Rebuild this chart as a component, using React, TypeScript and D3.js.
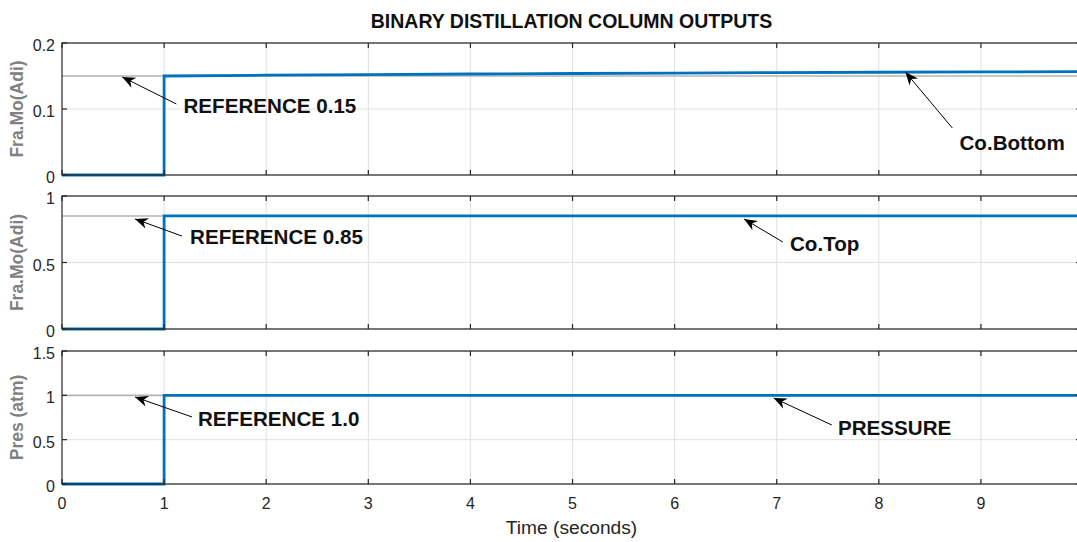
import React, { useEffect, useRef } from 'react';
import * as d3 from 'd3';

// time samples (seconds) and the three column outputs
const timeSec = [0, 1, 1, 2, 3, 4, 5, 6, 7, 8, 9, 9.98];
const coBottom = [0, 0, 0.15, 0.1512, 0.1522, 0.153, 0.1538, 0.1545, 0.1551, 0.1557, 0.1562, 0.1567];
const coTop = [0, 0, 0.85, 0.85, 0.85, 0.85, 0.85, 0.85, 0.85, 0.85, 0.85, 0.85];
const pressure = [0, 0, 1, 1, 1, 1, 1, 1, 1, 1, 1, 1];

const panelLabels = ['Fra.Mo(Adi)', 'Fra.Mo(Adi)', 'Pres (atm)'];
const panelMax = [0.2, 1, 1.5];
const panelTicks = [[0, 0.1, 0.2], [0, 0.5, 1], [0, 0.5, 1, 1.5]];
const referenceValues = [0.15, 0.85, 1.0];
const xTicks = [0, 1, 2, 3, 4, 5, 6, 7, 8, 9];

// annotations: [panel, tipX, tipY, tailX, tailY, textX, textY, label]
const annotations: [number, number, number, number, number, number, number, string][] = [
  [0, 0.59, 0.1485, 1.12, 0.1076, 1.19, 0.094, 'REFERENCE 0.15'],
  [0, 8.26, 0.156, 8.72, 0.0712, 8.79, 0.0379, 'Co.Bottom'],
  [1, 0.715, 0.827, 1.175, 0.699, 1.254, 0.639, 'REFERENCE 0.85'],
  [1, 6.68, 0.827, 7.06, 0.654, 7.13, 0.586, 'Co.Top'],
  [2, 0.715, 0.981, 1.273, 0.756, 1.332, 0.654, 'REFERENCE 1.0'],
  [2, 6.97, 0.97, 7.54, 0.665, 7.6, 0.553, 'PRESSURE'],
];

const App: React.FC = () => {
  const svgRef = useRef<SVGSVGElement>(null);

  useEffect(() => {
    if (!svgRef.current) return;
    d3.select(svgRef.current).selectAll('*').remove();

    const width = 1077;
    const height = 542;
    const left = 62;
    const right = 1081;
    const panelTops = [43, 196, 351];
    const panelBottoms = [175, 329, 484];
    const font = '"Liberation Sans", Arial, Helvetica, sans-serif';
    const frameColor = '#262626';
    const gridColor = '#e0e0e0';
    const lineColor = '#0072BD';
    const refColor = '#b4b4b4';
    const tickLen = 5;

    const svg = d3.select(svgRef.current)
      .attr('width', width)
      .attr('height', height)
      .style('font-family', font);

    svg.append('rect').attr('width', width).attr('height', height).attr('fill', '#fff');

    const x = d3.scaleLinear().domain([0, 9.98]).range([left, right]);
    const series = [coBottom, coTop, pressure];

    panelTops.forEach((top, p) => {
      const bottom = panelBottoms[p];
      const y = d3.scaleLinear().domain([0, panelMax[p]]).range([bottom, top]);
      const g = svg.append('g');

      // grid
      xTicks.slice(1).forEach(t => {
        g.append('line')
          .attr('x1', x(t)).attr('x2', x(t))
          .attr('y1', top).attr('y2', bottom)
          .attr('stroke', gridColor).attr('stroke-width', 1);
      });
      panelTicks[p].forEach(t => {
        g.append('line')
          .attr('x1', left).attr('x2', right)
          .attr('y1', y(t)).attr('y2', y(t))
          .attr('stroke', gridColor).attr('stroke-width', 1);
      });

      // reference line
      g.append('line')
        .attr('x1', left).attr('x2', right)
        .attr('y1', y(referenceValues[p])).attr('y2', y(referenceValues[p]))
        .attr('stroke', refColor).attr('stroke-width', 1.6);

      // signal
      const line = d3.line<number>()
        .x((_, i) => x(timeSec[i]))
        .y(d => y(d));
      g.append('path')
        .attr('d', line(series[p]))
        .attr('fill', 'none')
        .attr('stroke', lineColor)
        .attr('stroke-width', 2.8);

      // frame
      g.append('rect')
        .attr('x', left).attr('y', top)
        .attr('width', right - left).attr('height', bottom - top)
        .attr('fill', 'none').attr('stroke', frameColor).attr('stroke-width', 1.2);

      // x ticks (inward, top and bottom)
      xTicks.forEach(t => {
        g.append('line').attr('x1', x(t)).attr('x2', x(t))
          .attr('y1', bottom).attr('y2', bottom - tickLen)
          .attr('stroke', frameColor).attr('stroke-width', 1.2);
        g.append('line').attr('x1', x(t)).attr('x2', x(t))
          .attr('y1', top).attr('y2', top + tickLen)
          .attr('stroke', frameColor).attr('stroke-width', 1.2);
      });

      // y ticks and labels
      panelTicks[p].forEach(t => {
        g.append('line').attr('x1', left).attr('x2', left + tickLen)
          .attr('y1', y(t)).attr('y2', y(t))
          .attr('stroke', frameColor).attr('stroke-width', 1.2);
        g.append('line').attr('x1', right).attr('x2', right - tickLen)
          .attr('y1', y(t)).attr('y2', y(t))
          .attr('stroke', frameColor).attr('stroke-width', 1.2);
        g.append('text')
          .attr('x', left - 7).attr('y', y(t) + 8)
          .attr('text-anchor', 'end')
          .attr('font-size', 16)
          .attr('fill', frameColor)
          .text(String(t));
      });

      // y label
      g.append('text')
        .attr('transform', `translate(23,${(top + bottom) / 2}) rotate(-90)`)
        .attr('text-anchor', 'middle')
        .attr('font-size', 17.5)
        .attr('font-weight', 'bold')
        .attr('fill', '#808080')
        .text(panelLabels[p]);

      // annotations
      annotations.filter(a => a[0] === p).forEach(a => {
        const [, tx, ty, sx, sy, lx, ly, label] = a;
        const x1 = x(sx), y1 = y(sy), x2 = x(tx), y2 = y(ty);
        g.append('line')
          .attr('x1', x1).attr('y1', y1).attr('x2', x2).attr('y2', y2)
          .attr('stroke', '#000').attr('stroke-width', 1);
        const ang = Math.atan2(y2 - y1, x2 - x1);
        const len = 13, half = 5.5, notch = 9;
        const ux = Math.cos(ang), uy = Math.sin(ang);
        const bx = x2 - ux * len, by = y2 - uy * len;
        const pts: [number, number][] = [
          [x2, y2],
          [bx - uy * half, by + ux * half],
          [x2 - ux * notch, y2 - uy * notch],
          [bx + uy * half, by - ux * half],
        ];
        g.append('path')
          .attr('d', d3.line()(pts) + 'Z')
          .attr('fill', '#000');
        g.append('text')
          .attr('x', x(lx)).attr('y', y(ly))
          .attr('font-size', 20.6)
          .attr('font-weight', 'bold')
          .attr('fill', '#111')
          .text(label);
      });
    });

    // x tick labels under bottom panel
    xTicks.forEach(t => {
      svg.append('text')
        .attr('x', x(t)).attr('y', 509)
        .attr('text-anchor', 'middle')
        .attr('font-size', 16)
        .attr('fill', frameColor)
        .text(String(t));
    });

    svg.append('text')
      .attr('x', (left + right) / 2).attr('y', 534)
      .attr('text-anchor', 'middle')
      .attr('font-size', 19.2)
      .attr('fill', frameColor)
      .text('Time (seconds)');

    svg.append('text')
      .attr('x', (left + right) / 2).attr('y', 28)
      .attr('text-anchor', 'middle')
      .attr('font-size', 19.5)
      .attr('font-weight', 'bold')
      .attr('fill', '#111')
      .text('BINARY DISTILLATION COLUMN OUTPUTS');
  }, []);

  return (
    <div style={{ position: 'absolute', left: 0, top: 0 }}>
      <svg ref={svgRef} style={{ display: 'block' }}></svg>
    </div>
  );
};

export default App;
